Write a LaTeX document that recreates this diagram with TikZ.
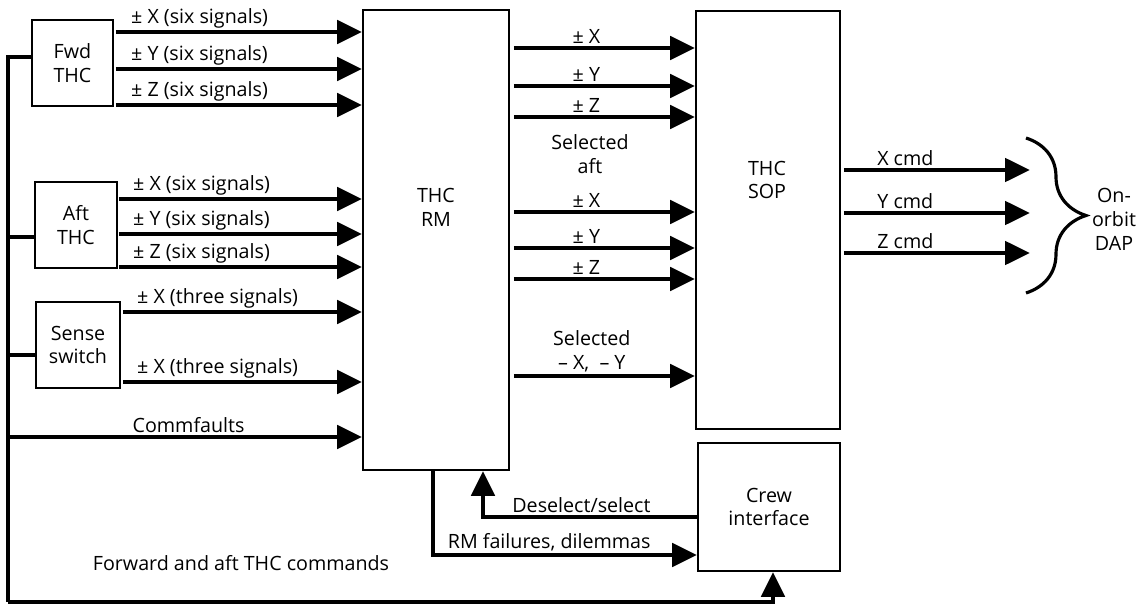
\documentclass[tikz,border=0pt]{standalone}
\usepackage{fontspec}
\setmainfont{Open Sans}
\usetikzlibrary{arrows.meta, positioning, calc, decorations.pathreplacing}

\begin{document}
\begin{tikzpicture}[
    x=0.02cm, y=-0.02cm,
    font=\fontsize{11.2}{13.6}\selectfont,
    box/.style={draw, line width=1.1pt, align=center, inner sep=0pt},
    wire/.style={line width=2.8pt},
    arr/.style={wire, -{Triangle[length=0.5cm, width=0.46cm]}},
    lbl/.style={inner sep=1pt},
    brc/.style={line width=1.8pt, decorate, decoration={brace, amplitude=1.2cm}},
]
\useasboundingbox (0,0) rectangle (1137,605);
% ------------------------------------------------ boxes
\node[box, minimum width=1.62cm, minimum height=1.72cm] (fwd) at (72.5,63) {Fwd\\THC};
\node[box, minimum width=1.64cm, minimum height=1.72cm] (aft) at (76,225) {Aft\\THC};
\node[box, minimum width=1.68cm, minimum height=1.72cm] (sense) at (78,345) {Sense\\switch};
\node[box, minimum width=2.92cm, minimum height=9.2cm] (rm) at (436,240) {};
\node[align=center] at (436,207) {THC\\RM};
\node[box, minimum width=2.88cm, minimum height=8.36cm] (sop) at (768,220) {};
\node[align=center] at (767,180) {THC\\SOP};
\node[box, minimum width=2.84cm, minimum height=2.56cm] (crew) at (769,507) {Crew\\interface};
% ------------------------------------------------ hand controller signals
\foreach \dy/\t in {-31/X, 6/Y, 42/Z}
  \draw[arr] ($(fwd.east)+(2,\dy)$) coordinate (a) -- node[lbl, anchor=south west, pos=0, xshift=0.22cm] {± \t\ (six signals)} (a -| rm.west);
\foreach \dy/\t in {-26/X, 9/Y, 42/Z}
  \draw[arr] ($(aft.east)+(1,\dy)$) coordinate (a) -- node[lbl, anchor=south west, pos=0, xshift=0.2cm] {± \t\ (six signals)} (a -| rm.west);
\foreach \dy in {-33, 37}
  \draw[arr] ($(sense.east)+(2,\dy)$) coordinate (a) -- node[lbl, anchor=south west, pos=0, xshift=0.2cm] {± X (three signals)} (a -| rm.west);
% ------------------------------------------------ left bus
\coordinate (bl) at (8,602);
\draw[wire] ($(fwd.west)+(0,-6)$) -| (bl);
\draw[wire] ($(aft.west)+(0,12)$) coordinate (a) -- (a -| bl);
\draw[wire] ($(sense.west)+(0,10)$) coordinate (a) -- (a -| bl);
\coordinate (cf) at (8,437);
\draw[arr] (cf) -- node[lbl, above, pos=0.51] {Commfaults} (cf -| rm.west);
\draw[arr] (bl) -| ($(crew.south)+(4,0)$);
\node at (241,563) {Forward and aft THC commands};
% ------------------------------------------------ RM to SOP
\foreach \y/\t in {48/X, 86/Y, 117/Z, 212/X, 248/Y, 279/Z}
  \draw[arr] ($(rm.east |- 0,\y)+(4,0)$) coordinate (a) -- node[lbl, above, pos=0.4] {± \t} (a -| sop.west);
\node[align=center] at (590,154) {Selected\\aft};
\draw[arr] ($(rm.east |- 0,376)+(4,0)$) coordinate (a) -- node[lbl, above, pos=0.43, align=center] {Selected\\– X,\ \ – Y} (a -| sop.west);
% ------------------------------------------------ crew interface
\draw[arr] ($(crew.west)+(0,10)$) -| node[lbl, above, pos=0.27] {Deselect/select} ($(rm.south)+(47,0)$);
\draw[arr] ($(rm.south)+(-3,0)$) |- node[lbl, above, pos=0.72] {RM failures, dilemmas} ($(crew.west)+(0,48)$);
% ------------------------------------------------ SOP outputs
\foreach \y/\t in {170/X, 213/Y, 253/Z}
  \draw[arr] ($(sop.east |- 0,\y)+(3,0)$) coordinate (a) -- node[lbl, above, pos=0.33] {\t\ cmd} (a -| 1030,0);
\draw[brc] (1026,138) -- (1026,293);
\node[align=center] (dap) at (1114,219) {On-\\orbit\\DAP};
\end{tikzpicture}
\end{document}
